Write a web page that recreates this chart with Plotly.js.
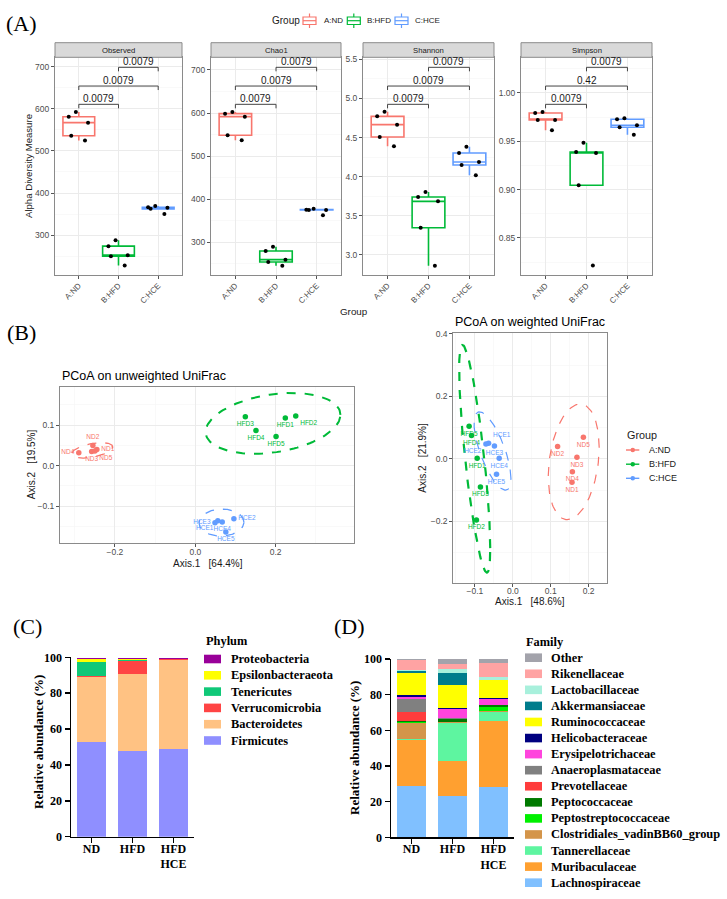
<!DOCTYPE html>
<html><head><meta charset="utf-8">
<script src="https://cdn.plot.ly/plotly-3.0.1.min.js"></script>
<style>html,body{margin:0;padding:0;background:#fff;}</style>
</head><body><div id="chart" style="width:727px;height:899px"></div>
<script>
// ---------------- DATA ----------------
const groups = ['A:ND', 'B:HFD', 'C:HCE'];
const groupColors = ['#F8766D', '#00BA38', '#619CFF'];
const metricNames = ['Observed', 'Chao1', 'Shannon', 'Simpson'];

const observedND = [581, 592.5, 567, 536, 524.5];
const observedHFD = [288, 274, 250, 252.6, 228];
const observedHCE = [366, 362.5, 369, 365, 350];
const chao1ND = [598.6, 602.5, 591.7, 548.4, 536.8];
const chao1HFD = [290, 280, 259.8, 254.4, 245.8];
const chao1HCE = [375.8, 375, 378, 375, 362.7];
const shannonND = [4.771, 4.831, 4.665, 4.507, 4.387];
const shannonHFD = [3.803, 3.740, 3.684, 3.347, 2.861];
const shannonHCE = [4.383, 4.302, 4.187, 4.149, 4.017];
const simpsonND = [0.9793, 0.9803, 0.972, 0.972, 0.9614];
const simpsonHFD = [0.9486, 0.939, 0.938, 0.9045, 0.8214];
const simpsonHCE = [0.9728, 0.9738, 0.9666, 0.9645, 0.9569];

const comparisons = [[0, 1], [0, 2], [1, 2]];
const pObserved = ['0.0079', '0.0079', '0.0079'];
const pChao1 = ['0.0079', '0.0079', '0.0079'];
const pShannon = ['0.0079', '0.0079', '0.0079'];
const pSimpson = ['0.0079', '0.42', '0.0079'];

const samplesND = ['ND1', 'ND2', 'ND3', 'ND4', 'ND5'];
const samplesHFD = ['HFD1', 'HFD2', 'HFD3', 'HFD4', 'HFD5'];
const samplesHCE = ['HCE1', 'HCE2', 'HCE3', 'HCE4', 'HCE5'];
// unweighted UniFrac PCoA
const unwND_x = [-0.245, -0.255, -0.258, -0.290, -0.250];
const unwND_y = [0.040, 0.050, 0.035, 0.032, 0.036];
const unwHFD_x = [0.224, 0.250, 0.1245, 0.151, 0.201];
const unwHFD_y = [0.118, 0.1226, 0.121, 0.087, 0.072];
const unwHCE_x = [0.056, 0.096, 0.049, 0.067, 0.076];
const unwHCE_y = [-0.136, -0.131, -0.141, -0.139, -0.164];
// weighted UniFrac PCoA
const wND_x = [0.156, 0.118, 0.169, 0.157, 0.186];
const wND_y = [-0.075, 0.040, 0.005, -0.041, 0.069];
const wHFD_x = [-0.094, -0.096, -0.0854, -0.109, -0.1153];
const wHFD_y = [0.002, -0.1955, -0.0897, 0.0747, 0.1045];
const wHCE_x = [-0.064, -0.071, -0.0485, -0.036, -0.043];
const wHCE_y = [0.050, 0.048, 0.0416, 0.002, -0.049];

const barGroups = ['ND', 'HFD', 'HFD<br>HCE'];
// bottom -> top
const phyla = ['Firmicutes', 'Bacteroidetes', 'Verrucomicrobia', 'Tenericutes', 'Epsilonbacteraeota', 'Proteobacteria'];
const phylumColors = ['#8F8FFF', '#FFC283', '#FF4444', '#10C878', '#FFFF00', '#990099'];
const phylumND = [52.8, 36.2, 0.8, 7.6, 1.5, 0.7];
const phylumHFD = [47.6, 43.1, 7.4, 0.2, 0.7, 0.8];
const phylumHCE = [48.7, 49.8, 0.3, 0.1, 0.1, 0.5];

const families = ['Lachnospiraceae', 'Muribaculaceae', 'Tannerellaceae', 'Clostridiales_vadinBB60_group',
  'Peptostreptococcaceae', 'Peptococcaceae', 'Prevotellaceae', 'Anaeroplasmataceae', 'Erysipelotrichaceae',
  'Helicobacteraceae', 'Ruminococcaceae', 'Akkermansiaceae', 'Lactobacillaceae', 'Rikenellaceae', 'Other'];
const familyColors = ['#80C0FF', '#FFA030', '#5EF5A0', '#D4954A', '#00F000', '#007A00', '#FF3C3C', '#808080',
  '#FF44DD', '#000080', '#FFFF00', '#007C8C', '#A8F0DC', '#FFA3A3', '#A3A3AB'];
const familyND = [29.0, 25.6, 0.5, 9.2, 0.2, 0.5, 5.1, 7.7, 0.7, 1.5, 12.3, 1.0, 0.5, 5.5, 0.7];
const familyHFD = [23.4, 19.4, 21.3, 0.3, 0.5, 1.3, 0.2, 0.3, 5.0, 1.0, 12.5, 6.9, 2.3, 2.8, 2.6];
const familyHCE = [28.0, 37.2, 5.3, 0.3, 2.2, 1.0, 0.2, 0.2, 3.2, 0.4, 10.0, 0.5, 1.6, 7.7, 2.2];

// ---------------- HELPERS ----------------
const W = 727, H = 899;
const SANS = 'Liberation Sans, Arial, sans-serif';
const SERIF = 'Liberation Serif, Times New Roman, serif';
const xd = (a, b) => [a / W, b / W];
const yd = (t, b) => [1 - b / H, 1 - t / H];
const px = v => v / W, py = v => 1 - v / H;
const axId = k => (k === 1 ? '' : String(k));
const annotations = [], shapes = [], traces = [];

function ann(text, x, y, o) {
  return Object.assign({ text, x: px(x), y: py(y), xref: 'paper', yref: 'paper', showarrow: false,
    xanchor: 'center', yanchor: 'middle', font: { family: SANS, size: 10, color: '#000' } }, o || {});
}
function rectP(x0, y0, x1, y1, o) {
  return Object.assign({ type: 'rect', xref: 'paper', yref: 'paper', x0: px(x0), x1: px(x1), y0: py(y1), y1: py(y0),
    line: { width: 0 } }, o || {});
}
function lineP(x0, y0, x1, y1, o) {
  return Object.assign({ type: 'line', xref: 'paper', yref: 'paper', x0: px(x0), x1: px(x1), y0: py(y0), y1: py(y1) }, o || {});
}

function ggAxis(extra) {
  return Object.assign({ showline: true, mirror: true, linecolor: '#8a8a8a', linewidth: 1, showgrid: true,
    gridcolor: '#EBEBEB', gridwidth: 1, zeroline: false, ticks: 'outside', ticklen: 3, tickcolor: '#555',
    tickfont: { family: SANS, size: 8.5, color: '#4D4D4D' }, fixedrange: true, automargin: false }, extra);
}

const layout = {
  width: W, height: H, margin: { l: 0, r: 0, t: 0, b: 0 }, paper_bgcolor: '#fff', plot_bgcolor: '#fff',
  showlegend: false, barmode: 'stack', bargap: 0.285, boxmode: 'overlay', annotations, shapes
};

// ---------------- PANEL A ----------------
const aData = [[observedND, observedHFD, observedHCE], [chao1ND, chao1HFD, chao1HCE],
  [shannonND, shannonHFD, shannonHCE], [simpsonND, simpsonHFD, simpsonHCE]];
const aP = [pObserved, pChao1, pShannon, pSimpson];
const aX = [[55, 182], [211, 341], [363, 494], [521, 652]];
const aRange = [[205.5, 722], [224.2, 729.4], [2.742, 5.526], [0.8117, 1.0369]];
const aTick = [[100, 50, ''], [100, 50, ''], [0.5, 0.25, '.1f'], [0.05, 0.025, '.2f']];
const aTop = 57.3, aBot = 275;
const bracketLevels = [0.784, 0.868, 0.954];
for (let m = 0; m < 4; m++) {
  const k = m + 1;
  layout['xaxis' + axId(k)] = ggAxis({ domain: xd(aX[m][0], aX[m][1]), anchor: 'y' + axId(k), type: 'category',
    categoryorder: 'array', categoryarray: groups, range: [-0.6, 2.6], tickangle: -45, ticklabelstandoff: -1,
    tickfont: { family: SANS, size: 8, color: '#4D4D4D' } });
  layout['yaxis' + axId(k)] = ggAxis({ domain: yd(aTop, aBot), anchor: 'x' + axId(k), range: aRange[m],
    dtick: aTick[m][0], tick0: 0, tickformat: aTick[m][2],
    minor: { dtick: aTick[m][1], showgrid: true, gridcolor: '#F5F5F5', gridwidth: 0.6, ticks: '' } });
  for (let g = 0; g < 3; g++) {
    traces.push({ type: 'box', xaxis: 'x' + axId(k), yaxis: 'y' + axId(k), name: groups[g],
      x: aData[m][g].map(() => groups[g]), y: aData[m][g], boxpoints: 'all', jitter: 0.75, pointpos: 0,
      marker: { color: '#000', size: 4 }, line: { color: groupColors[g], width: 1.6 }, fillcolor: '#fff',
      whiskerwidth: 0, width: 0.8, quartilemethod: 'inclusive', hoverinfo: 'skip', showlegend: false });
  }
  // strip
  shapes.push(rectP(aX[m][0], 42.7, aX[m][1], aTop, { fillcolor: '#D9D9D9', line: { color: '#8a8a8a', width: 1 } }));
  annotations.push(ann(metricNames[m], (aX[m][0] + aX[m][1]) / 2, 50, { font: { family: SANS, size: 7.7, color: '#1A1A1A' } }));
  // significance brackets
  comparisons.forEach((c, i) => {
    const lv = bracketLevels[i], tip = 0.0184;
    const base = { xref: 'x' + axId(k), yref: 'y' + axId(k) + ' domain', line: { color: '#444', width: 1 } };
    shapes.push(Object.assign({ type: 'line', x0: c[0], x1: c[1], y0: lv, y1: lv }, base));
    shapes.push(Object.assign({ type: 'line', x0: c[0], x1: c[0], y0: lv, y1: lv - tip }, base));
    shapes.push(Object.assign({ type: 'line', x0: c[1], x1: c[1], y0: lv, y1: lv - tip }, base));
    annotations.push({ text: aP[m][i], xref: 'x' + axId(k), yref: 'y' + axId(k) + ' domain', x: (c[0] + c[1]) / 2,
      y: lv, yanchor: 'bottom', xanchor: 'center', showarrow: false, yshift: -2,
      font: { family: SANS, size: 10, color: '#1A1A1A' } });
  });
}
annotations.push(ann('(A)', 21, 23, { font: { family: SERIF, size: 22, color: '#000' } }));
annotations.push(ann('Alpha Diversity Measure', 28, 166, { textangle: -90, font: { family: SANS, size: 9.6, color: '#1A1A1A' } }));
annotations.push(ann('Group', 354, 311.5, { font: { family: SANS, size: 9.8, color: '#1A1A1A' } }));
// top legend (box glyphs)
annotations.push(ann('Group', 270, 20.7, { xanchor: 'left', font: { family: SANS, size: 10, color: '#1A1A1A' } }));
const legA = [[303, 321.5], [347.3, 365], [395, 413.3]];
groups.forEach((gname, g) => {
  const x0 = legA[g][0], x1 = x0 + 13, cx = x0 + 6.5;
  shapes.push(rectP(x0, 17, x1, 24.5, { fillcolor: '#fff', line: { color: groupColors[g], width: 1.2 } }));
  shapes.push(lineP(x0, 20.7, x1, 20.7, { line: { color: groupColors[g], width: 1.2 } }));
  shapes.push(lineP(cx, 13.5, cx, 17, { line: { color: groupColors[g], width: 1.2 } }));
  shapes.push(lineP(cx, 24.5, cx, 28, { line: { color: groupColors[g], width: 1.2 } }));
  annotations.push(ann(gname, legA[g][1], 20.7, { xanchor: 'left', font: { family: SANS, size: 8, color: '#1A1A1A' } }));
});

// ---------------- PANEL B ----------------
function covTrob(xs, ys) {
  const n = xs.length, nu = 5, p = 2;
  let w = xs.map(() => 1);
  let lx = xs.reduce((a, b) => a + b, 0) / n, ly = ys.reduce((a, b) => a + b, 0) / n;
  let dxs, dys;
  for (let it = 0; it < 25; it++) {
    const w0 = w.slice();
    dxs = xs.map(v => v - lx); dys = ys.map(v => v - ly);
    const sw = w.reduce((a, b) => a + b, 0);
    let sxx = 0, sxy = 0, syy = 0;
    for (let i = 0; i < n; i++) { sxx += w[i] * dxs[i] * dxs[i] / sw; sxy += w[i] * dxs[i] * dys[i] / sw; syy += w[i] * dys[i] * dys[i] / sw; }
    const det = sxx * syy - sxy * sxy;
    const Q = dxs.map((d, i) => (syy * d * d - 2 * sxy * d * dys[i] + sxx * dys[i] * dys[i]) / det);
    w = Q.map(q => (nu + p) / (nu + q));
    const sw2 = w.reduce((a, b) => a + b, 0);
    lx = xs.reduce((a, v, i) => a + w[i] * v, 0) / sw2;
    ly = ys.reduce((a, v, i) => a + w[i] * v, 0) / sw2;
    if (w.every((v, i) => Math.abs(v - w0[i]) < 0.01)) break;
  }
  let cxx = 0, cxy = 0, cyy = 0;
  for (let i = 0; i < n; i++) { cxx += w[i] * dxs[i] * dxs[i] / n; cxy += w[i] * dxs[i] * dys[i] / n; cyy += w[i] * dys[i] * dys[i] / n; }
  return { cx: lx, cy: ly, cxx, cxy, cyy };
}
const F95_2_4 = 6.944272; // qf(0.95, 2, 4)
function ellipse(xs, ys) {
  const v = covTrob(xs, ys), r = Math.sqrt(2 * F95_2_4);
  const a = Math.sqrt(v.cxx), b = v.cxy / a, c = Math.sqrt(Math.max(v.cyy - b * b, 0));
  const ex = [], ey = [];
  for (let i = 0; i <= 120; i++) {
    const t = i / 120 * 2 * Math.PI;
    ex.push(v.cx + r * a * Math.cos(t));
    ey.push(v.cy + r * (b * Math.cos(t) + c * Math.sin(t)));
  }
  return [ex, ey];
}
const pcoaSets = [
  { k: 5, title: 'PCoA on unweighted UniFrac', data: [[unwND_x, unwND_y], [unwHFD_x, unwHFD_y], [unwHCE_x, unwHCE_y]],
    xdom: [60, 354], ydom: [386.7, 543.3], xr: [-0.3368, 0.395], yr: [-0.1916, 0.195], xdt: [0.2, 0.1], ydt: [0.1, 0.05],
    pos: [['middle right', 'top center', 'bottom center', 'middle left', 'bottom right'],
          ['bottom center', 'bottom right', 'bottom center', 'bottom center', 'bottom center'],
          ['bottom left', 'middle right', 'middle left', 'bottom center', 'bottom center']],
    ew: [1.3, 2, 1.3] },
  { k: 6, title: 'PCoA on weighted UniFrac', data: [[wND_x, wND_y], [wHFD_x, wHFD_y], [wHCE_x, wHCE_y]],
    xdom: [453.3, 606.7], ydom: [333.3, 583], xr: [-0.157, 0.2475], yr: [-0.397, 0.402], xdt: [0.1, 0.05], ydt: [0.2, 0.1],
    pos: [['bottom center', 'bottom center', 'bottom center', 'bottom center', 'bottom center'],
          ['bottom center', 'bottom center', 'bottom center', 'bottom center', 'bottom center'],
          ['top right', 'bottom left', 'bottom center', 'bottom center', 'bottom center']],
    ew: [1.2, 2.2, 1.2] }
];
const sampleSets = [samplesND, samplesHFD, samplesHCE];
pcoaSets.forEach(s => {
  const k = s.k;
  layout['xaxis' + k] = ggAxis({ domain: xd(s.xdom[0], s.xdom[1]), anchor: 'y' + k, range: s.xr, dtick: s.xdt[0], tick0: 0,
    tickformat: '.1f', ticklabelstandoff: -3,
    minor: { dtick: s.xdt[1], showgrid: true, gridcolor: '#F5F5F5', gridwidth: 0.6, ticks: '' } });
  layout['yaxis' + k] = ggAxis({ domain: yd(s.ydom[0], s.ydom[1]), anchor: 'x' + k, range: s.yr, dtick: s.ydt[0], tick0: 0,
    tickformat: '.1f', minor: { dtick: s.ydt[1], showgrid: true, gridcolor: '#F5F5F5', gridwidth: 0.6, ticks: '' } });
  s.data.forEach((d, g) => {
    const [ex, ey] = ellipse(d[0], d[1]);
    traces.push({ type: 'scatter', mode: 'lines', x: ex, y: ey, xaxis: 'x' + k, yaxis: 'y' + k,
      line: { color: groupColors[g], width: s.ew[g], dash: 'dash' }, hoverinfo: 'skip', showlegend: false, cliponaxis: true });
    traces.push({ type: 'scatter', mode: 'markers+text', x: d[0], y: d[1], text: sampleSets[g], xaxis: 'x' + k, yaxis: 'y' + k,
      textposition: s.pos[g], textfont: { family: SANS, size: 6.5, color: groupColors[g] },
      marker: { color: groupColors[g], size: 5.5 }, hoverinfo: 'skip', showlegend: false, cliponaxis: false });
  });
  annotations.push(ann(s.title, s.xdom[0], s.ydom[0] - 11, { xanchor: 'left', font: { family: SANS, size: 12.5, color: '#000' } }));
});
annotations.push(ann('(B)', 21, 332, { font: { family: SERIF, size: 22, color: '#000' } }));
annotations.push(ann('Axis.1\u00A0\u00A0\u00A0[64.4%]', 207.5, 563.3, { font: { family: SANS, size: 10, color: '#1A1A1A' } }));
annotations.push(ann('Axis.2\u00A0\u00A0\u00A0[19.5%]', 31.7, 464.5, { textangle: -90, font: { family: SANS, size: 10, color: '#1A1A1A' } }));
annotations.push(ann('Axis.1\u00A0\u00A0\u00A0[48.6%]', 530, 601.5, { font: { family: SANS, size: 10, color: '#1A1A1A' } }));
annotations.push(ann('Axis.2\u00A0\u00A0\u00A0[21.9%]', 421.7, 458, { textangle: -90, font: { family: SANS, size: 10, color: '#1A1A1A' } }));
// legend for weighted plot
annotations.push(ann('Group', 625, 435, { xanchor: 'left', font: { family: SANS, size: 10.8, color: '#1A1A1A' } }));
const legBY = [450, 464.2, 478.3];
groups.forEach((gname, g) => {
  shapes.push(lineP(626, legBY[g], 639.3, legBY[g], { line: { color: groupColors[g], width: 1.4 } }));
  shapes.push({ type: 'circle', xref: 'paper', yref: 'paper', x0: px(630.5), x1: px(635), y0: py(legBY[g] + 2.25), y1: py(legBY[g] - 2.25),
    fillcolor: groupColors[g], line: { width: 0 } });
  annotations.push(ann(gname, 646.7, legBY[g], { xanchor: 'left', font: { family: SANS, size: 9, color: '#1A1A1A' } }));
});

// ---------------- PANELS C & D ----------------
function barAxes(k, xdom, ydom) {
  layout['xaxis' + k] = { domain: xd(xdom[0], xdom[1]), anchor: 'y' + k, type: 'category', range: [-0.5, 2.5],
    showline: true, linecolor: '#000', linewidth: 1.5, ticks: 'outside', ticklen: 5, tickwidth: 1.5, tickcolor: '#000',
    ticklabelstandoff: -5,
    showgrid: false, zeroline: false, fixedrange: true, tickfont: { family: SERIF, size: 12, color: '#000', weight: 700 } };
  layout['yaxis' + k] = { domain: yd(ydom[0], ydom[1]), anchor: 'x' + k, range: [0, 100], dtick: 20, tick0: 0,
    showline: true, linecolor: '#000', linewidth: 1.5, ticks: 'outside', ticklen: 5, tickwidth: 1.5, tickcolor: '#000',
    showgrid: false, zeroline: false, fixedrange: true, tickfont: { family: SERIF, size: 12, color: '#000', weight: 700 } };
}
barAxes(7, [71, 194], [657.3, 836.7]);
barAxes(8, [391, 514], [659, 837.3]);
phyla.forEach((ph, i) => {
  traces.push({ type: 'bar', x: barGroups, y: [phylumND[i], phylumHFD[i], phylumHCE[i]], name: ph, xaxis: 'x7', yaxis: 'y7',
    marker: { color: phylumColors[i], line: { width: 0 } }, hoverinfo: 'skip', showlegend: false });
});
families.forEach((f, i) => {
  traces.push({ type: 'bar', x: barGroups, y: [familyND[i], familyHFD[i], familyHCE[i]], name: f, xaxis: 'x8', yaxis: 'y8',
    marker: { color: familyColors[i], line: { width: 0 } }, hoverinfo: 'skip', showlegend: false });
});
const boldSerif = (size) => ({ family: SERIF, size, color: '#000', weight: 700 });
annotations.push(ann('(C)', 27, 626, { font: { family: SERIF, size: 22, color: '#000' } }));
annotations.push(ann('(D)', 349, 626, { font: { family: SERIF, size: 22, color: '#000' } }));
annotations.push(ann('Relative abundance (%)', 38, 742, { textangle: -90, font: boldSerif(13) }));
annotations.push(ann('Relative abundance (%)', 354, 748, { textangle: -90, font: boldSerif(13) }));
// legend C (top -> bottom = reversed stacking)
annotations.push(ann('Phylum', 204, 641, { xanchor: 'left', font: boldSerif(12.4) }));
phyla.slice().reverse().forEach((ph, j) => {
  const i = phyla.length - 1 - j, y = 659 + 16.3 * j;
  shapes.push(rectP(204, y - 4.3, 221, y + 4.3, { fillcolor: phylumColors[i] }));
  annotations.push(ann(ph, 229, y, { xanchor: 'left', font: boldSerif(12.4) }));
});
annotations.push(ann('Family', 524, 641.7, { xanchor: 'left', font: boldSerif(12.4) }));
families.slice().reverse().forEach((f, j) => {
  const i = families.length - 1 - j, y = 657.7 + 16.07 * j;
  shapes.push(rectP(525, y - 4.3, 542, y + 4.3, { fillcolor: familyColors[i] }));
  annotations.push(ann(f, 549.3, y, { xanchor: 'left', font: boldSerif(12.4) }));
});

Plotly.newPlot('chart', traces, layout, { staticPlot: true, displayModeBar: false });
</script></body></html>
